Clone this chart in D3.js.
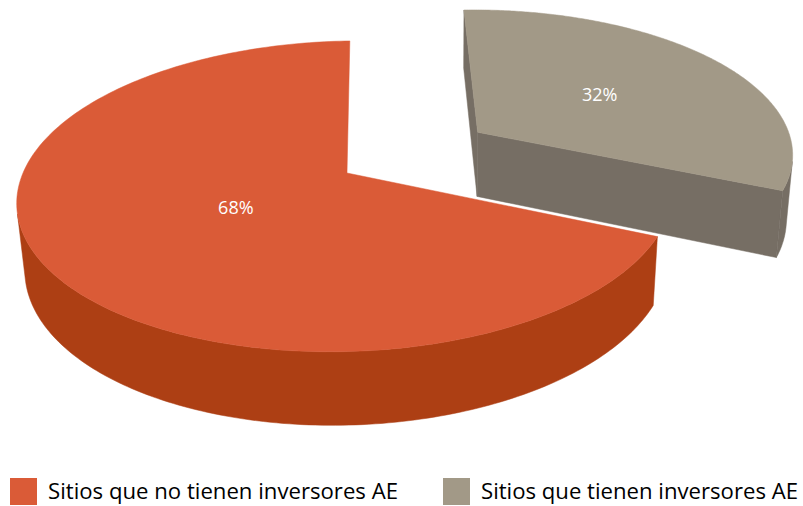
<!DOCTYPE html>
<html>
<head>
<meta charset="utf-8">
<script src="https://cdn.jsdelivr.net/npm/d3@7"></script>
<style>
  body { margin: 0; background: #fff; }
  svg { display: block; font-family: "Open Sans", "Noto Sans", sans-serif; }
</style>
</head>
<body>
<svg id="chart" width="803" height="506"></svg>
<script>

// data
var categories = ["Sitios que no tienen inversores AE", "Sitios que tienen inversores AE"];
var values = [68, 32];
var labels = ["68%", "32%"];

var topColors = ["#DA5B37", "#A29987"];
var sideColors = ["#AD3F14", "#766E64"];
var explode = [0, 0.494];      // radial offset of each slice (in pie radii)
var labelR = [0.39, 0.5];

var chart_vars = {
  'width': 803,
  'height': 506,
  'apex_x': 347,
  'apex_y': 173,
  'k': 324,          // px per radius at the center
  'persp': 0.15,
  'tilt_sin': 0.469,
  'cam_x': 0.3,      // camera offset to the right
  'depth': 0.235
}

var svg = d3.select("svg#chart");
var g = svg.append('g').attr('class', 'pie3d');

var a = chart_vars.tilt_sin,
    b = Math.sqrt(1 - a * a),
    D = b / chart_vars.persp,
    f = chart_vars.k * D,
    sx0 = chart_vars.apex_x + chart_vars.k * chart_vars.cam_x,
    sy0 = chart_vars.apex_y;

// camera position in world coords
var cam = [chart_vars.cam_x, -D * b, D * a];

function project(x, y, z) {
  var up = z * b + y * a;
  var fwd = y * b - z * a + D;
  return [sx0 + f * (x - chart_vars.cam_x) / fwd, sy0 - f * up / fwd];
}

var pie = d3.pie()
  .sort(null)
  .startAngle(113.2 * Math.PI / 180)
  .endAngle(113.2 * Math.PI / 180 + 2 * Math.PI);

var arcs = pie(values);

var line = d3.line();
var H = -chart_vars.depth;

arcs.forEach(function(d, i) {
  var mid = (d.startAngle + d.endAngle) / 2;
  d.i = i;
  d.ox = Math.sin(mid) * explode[i];
  d.oy = Math.cos(mid) * explode[i];
  d.mid = mid;
});

// far slices first
var order = arcs.slice().sort(function(p, q) { return (q.oy + Math.cos(q.mid)) - (p.oy + Math.cos(p.mid)); });

order.forEach(function(d) {
  var i = d.i;
  var sg = g.append('g').attr('class', 'slice slice-' + i);
  var n = 240;
  var angles = d3.range(n + 1).map(function(j) { return d.startAngle + (d.endAngle - d.startAngle) * j / n; });

  function rim(t, z) { return project(d.ox + Math.sin(t), d.oy + Math.cos(t), z); }

  // radial walls (skip the ones seen almost edge-on)
  [[d.startAngle, -1], [d.endAngle, 1]].forEach(function(w) {
    var t = w[0], s = w[1];
    var nx = s * Math.cos(t), ny = -s * Math.sin(t);
    var vis = nx * (cam[0] - d.ox) + ny * (cam[1] - d.oy);
    if (vis <= 0.2) return;
    var pts = [project(d.ox, d.oy, 0), rim(t, 0), rim(t, H), project(d.ox, d.oy, H)];
    sg.append('path')
      .attr('d', line(pts) + 'Z')
      .style('fill', sideColors[i])
      .style('stroke', sideColors[i])
      .style('stroke-width', 0.5);
  });

  // outer wall, only the parts facing the camera
  var runs = [], cur = [];
  angles.forEach(function(t) {
    var px = d.ox + Math.sin(t), py = d.oy + Math.cos(t);
    var vis = Math.sin(t) * (cam[0] - px) + Math.cos(t) * (cam[1] - py);
    if (vis > 0) cur.push(t);
    else if (cur.length) { runs.push(cur); cur = []; }
  });
  if (cur.length) runs.push(cur);

  runs.forEach(function(r) {
    var pts = r.map(function(t) { return rim(t, 0); })
      .concat(r.slice().reverse().map(function(t) { return rim(t, H); }));
    sg.append('path')
      .attr('d', line(pts) + 'Z')
      .style('fill', sideColors[i])
      .style('stroke', sideColors[i])
      .style('stroke-width', 0.5);
  });

  // top face
  var topPts = [project(d.ox, d.oy, 0)].concat(angles.map(function(t) { return rim(t, 0); }));
  sg.append('path')
    .attr('class', 'top')
    .attr('d', line(topPts) + 'Z')
    .style('fill', topColors[i])
    .style('stroke', topColors[i])
    .style('stroke-width', 0.5);
});

// value labels
arcs.forEach(function(d, i) {
  var p = project(d.ox + Math.sin(d.mid) * labelR[i], d.oy + Math.cos(d.mid) * labelR[i], 0);
  g.append('text')
    .attr('x', p[0])
    .attr('y', p[1])
    .attr('dy', '0.35em')
    .attr('text-anchor', 'middle')
    .style('font-size', '18px')
    .style('fill', 'white')
    .text(labels[i]);
});

// legend
var legendX = [10, 443];
var legendW = [350, 317];
var legend = svg.append('g').attr('class', 'legend');
categories.forEach(function(c, i) {
  legend.append('rect')
    .attr('x', legendX[i])
    .attr('y', 478)
    .attr('width', 27)
    .attr('height', 27)
    .style('fill', topColors[i]);
  legend.append('text')
    .attr('x', legendX[i] + 38)
    .attr('y', 499)
    .attr('textLength', legendW[i])
    .attr('lengthAdjust', 'spacingAndGlyphs')
    .style('font-size', '21px')
    .style('fill', '#000')
    .text(c);
});

</script>
</body>
</html>
